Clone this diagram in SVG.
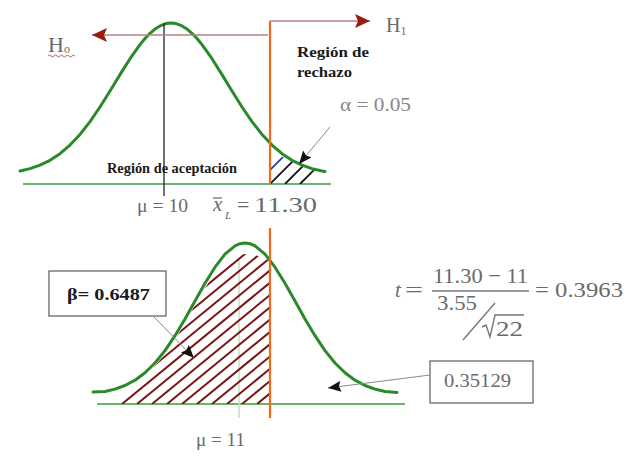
<svg xmlns="http://www.w3.org/2000/svg" width="640" height="459" viewBox="0 0 640 459">
<style>
  text { font-family: "Liberation Serif", "Times New Roman", serif; }
  .g { fill: #6a6a6a; }
  .b { font-weight: bold; fill: #1a1a1a; }
  .curve { fill: none; stroke: #2a8a2a; stroke-width: 3; stroke-linejoin: round; stroke-linecap: round; }
  .base { stroke: #3a9a3a; stroke-width: 1.5; }
  .orange { stroke: #f26a1b; stroke-width: 2.2; }
  .hyp { stroke: #b88282; stroke-width: 1.5; fill: none; }
  .lead { stroke: #8a8a8a; stroke-width: 1; fill: none; }
  .box { fill: #fff; stroke: #5a5a5a; stroke-width: 1.2; }
  .hatchR line { stroke: #7b1414; stroke-width: 2; }
  .hatchK line { stroke: #111; stroke-width: 1.8; }
  .math { stroke: #777; stroke-width: 1.4; fill: none; }
</style>
<defs>
  <marker id="ra" markerUnits="userSpaceOnUse" markerWidth="15" markerHeight="14" viewBox="0 0 15 14" refX="15" refY="7" orient="auto">
    <path d="M0,0 L15,7 L0,14 L3,7 Z" fill="#981c10"/>
  </marker>
  <marker id="ka" markerUnits="userSpaceOnUse" markerWidth="13" markerHeight="11" viewBox="0 0 13 11" refX="13" refY="5.5" orient="auto">
    <path d="M0,0 L13,5.5 L0,11 L2,5.5 Z" fill="#111"/>
  </marker>
  <clipPath id="clipBottom">
    <polygon points="121,404 128,391 135,384 145,376 155,366 165,354 175,339.5 185,323 195,305 205,288 215,273 225,262 235,256 245,254 255,255 262,257 270,261 270,404"/>
  </clipPath>
  <clipPath id="clipTop">
    <polygon points="270,184 270,166 280,156 292,160.3 302,165.1 312,168.6 320,170.6 320,184"/>
  </clipPath>
</defs>

<!-- Top distribution -->
<g id="top-distribution">
  <line class="base" x1="23" y1="184" x2="331" y2="184"/>
  <g class="hatchK" clip-path="url(#clipTop)">
    <line x1="256" y1="184" x2="316" y2="124" style="stroke:#1a3fbf"/>
    <line x1="270" y1="184" x2="330" y2="124"/>
    <line x1="285" y1="184" x2="345" y2="124"/>
    <line x1="300" y1="184" x2="360" y2="124"/>
  </g>
  <path class="curve" d="M20,171 L30,168.6 L40,165.1 L50,160.3 L60,153.7 L70,145.1 L80,134.4 L90,121.6 L100,107 L110,91 L120,74.6 L130,58.7 L140,44.6 L145,38.5 L150,33.3 L155,29.1 L160,25.9 L166,23.6 L171,23 L176,23.6 L182,25.9 L187,29.1 L192,33.3 L197,38.5 L202,44.6 L212,58.7 L222,74.6 L232,91 L242,107 L252,121.6 L262,134.4 L272,145.1 L282,153.7 L292,160.3 L302,165.1 L312,168.6 L322,171 L325,171.5"/>
  <line x1="164" y1="23" x2="164" y2="196" stroke="#222" stroke-width="1.3"/>
  <line class="orange" x1="270" y1="21" x2="270" y2="184"/>
</g>

<!-- Hypothesis arrows -->
<g id="h0">
  <line class="hyp" x1="268" y1="35" x2="92" y2="35" marker-end="url(#ra)"/>
  <text class="g" x="48" y="52" font-size="22">H<tspan font-size="12" dy="1">o</tspan></text>
  <path d="M48,56 q1.5,-2 3,0 t3,0 t3,0 t3,0 t3,0 t3,0 t3,0 t3,0 t3,0" fill="none" stroke="#e03a3a" stroke-width="0.9"/>
</g>
<g id="h1">
  <line class="hyp" x1="270" y1="21" x2="370" y2="21" marker-end="url(#ra)"/>
  <text class="g" x="386" y="32" font-size="20">H<tspan font-size="12" dy="3">1</tspan></text>
</g>

<g id="label-rechazo">
  <text class="b" x="297" y="57" font-size="15" textLength="72" lengthAdjust="spacingAndGlyphs">Región de</text>
  <text class="b" x="297" y="77" font-size="15" textLength="55" lengthAdjust="spacingAndGlyphs">rechazo</text>
</g>
<g id="label-alpha">
  <text x="340" y="111" font-size="18" fill="#888" textLength="71" lengthAdjust="spacingAndGlyphs">α = 0.05</text>
</g>
<g id="label-aceptacion">
  <text class="b" x="107" y="173" font-size="14" textLength="130" lengthAdjust="spacingAndGlyphs">Región de aceptación</text>
</g>
<g id="label-mu10">
  <text class="g" x="137" y="212" font-size="18" textLength="51" lengthAdjust="spacingAndGlyphs">μ = 10</text>
</g>
<g id="label-xL">
  <text class="g" x="213" y="211" font-size="21" font-style="italic">x</text>
  <line x1="213" y1="198" x2="222" y2="198" stroke="#6a6a6a" stroke-width="1.2"/>
  <text class="g" x="225" y="219" font-size="11" font-style="italic">L</text>
  <text class="g" x="237" y="212" font-size="22">=</text>
  <text class="g" x="254" y="212" font-size="22" textLength="63" lengthAdjust="spacingAndGlyphs">11.30</text>
</g>

<!-- Bottom distribution -->
<g id="bottom-distribution">
  <line class="base" x1="97" y1="404" x2="405" y2="404"/>
  <line x1="239" y1="258" x2="239" y2="418" stroke="#c5dcc5" stroke-width="1.5"/>
  <g class="hatchR" clip-path="url(#clipBottom)">
    <line x1="62" y1="404" x2="312" y2="199"/>
    <line x1="77" y1="404" x2="327" y2="199"/>
    <line x1="92" y1="404" x2="342" y2="199"/>
    <line x1="107" y1="404" x2="357" y2="199"/>
    <line x1="122" y1="404" x2="372" y2="199"/>
    <line x1="137" y1="404" x2="387" y2="199"/>
    <line x1="152" y1="404" x2="402" y2="199"/>
    <line x1="167" y1="404" x2="417" y2="199"/>
    <line x1="182" y1="404" x2="432" y2="199"/>
    <line x1="197" y1="404" x2="447" y2="199"/>
    <line x1="212" y1="404" x2="462" y2="199"/>
    <line x1="227" y1="404" x2="477" y2="199"/>
    <line x1="242" y1="404" x2="492" y2="199"/>
    <line x1="257" y1="404" x2="507" y2="199"/>
  </g>
  <path class="curve" d="M93,392 L105,391.5 L115,389.1 L125,385.5 L135,380.2 L145,372.8 L155,363 L165,350.6 L175,335.7 L185,318.9 L195,301 L205,283.2 L215,267.2 L225,254.2 L235,245.9 L240,243.7 L245,243 L250,243.7 L255,245.9 L265,254.2 L275,267.2 L285,283.2 L295,301 L305,318.9 L315,335.7 L325,350.6 L335,363 L345,372.8 L355,380.2 L365,385.5 L375,389.1 L385,391.5 L397,392.5"/>
  <line class="orange" x1="270" y1="228" x2="270" y2="418"/>
</g>

<g id="label-mu11">
  <text class="g" x="196" y="446" font-size="18" textLength="49" lengthAdjust="spacingAndGlyphs">μ = 11</text>
</g>

<g id="node-beta">
  <rect class="box" x="49" y="271" width="117" height="45"/>
  <text class="b" x="67" y="300" font-size="17" textLength="83" lengthAdjust="spacingAndGlyphs">β= 0.6487</text>
</g>
<g id="node-035129">
  <rect class="box" x="430" y="361" width="103" height="42"/>
  <text class="g" x="444" y="387" font-size="19" textLength="67" lengthAdjust="spacingAndGlyphs">0.35129</text>
</g>

<g id="formula">
  <text class="g" x="395" y="297" font-size="21" font-style="italic">t</text>
  <text class="g" x="405" y="297" font-size="22" textLength="18" lengthAdjust="spacingAndGlyphs">=</text>
  <text class="g" x="433" y="283" font-size="22" textLength="95" lengthAdjust="spacingAndGlyphs">11.30 − 11</text>
  <line class="math" x1="432" y1="291" x2="529" y2="291"/>
  <text class="g" x="535" y="297" font-size="22" textLength="88" lengthAdjust="spacingAndGlyphs">= 0.3963</text>
  <text class="g" x="437" y="310" font-size="21" textLength="40" lengthAdjust="spacingAndGlyphs">3.55</text>
  <line class="math" x1="463" y1="340" x2="495" y2="303"/>
  <path class="math" d="M482,327 L486,325 L490,337 L495,315 L524,315"/>
  <text class="g" x="496" y="336" font-size="22" textLength="27" lengthAdjust="spacingAndGlyphs">22</text>
</g>

<!-- Connectors -->
<g id="connectors">
  <line class="lead" x1="330" y1="127" x2="299" y2="164" marker-end="url(#ka)"/>
  <line class="lead" x1="153" y1="316" x2="194" y2="358" marker-end="url(#ka)"/>
  <line class="lead" x1="430" y1="375" x2="328" y2="388" marker-end="url(#ka)"/>
</g>
</svg>
